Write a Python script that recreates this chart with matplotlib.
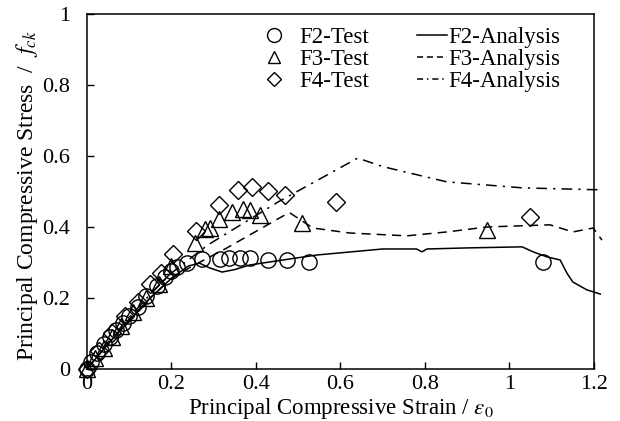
import matplotlib
matplotlib.use('Agg')
import matplotlib.pyplot as plt
from matplotlib.ticker import FuncFormatter
from matplotlib.lines import Line2D

plt.rcParams['font.family'] = ['Liberation Serif', 'DejaVu Serif']
plt.rcParams['mathtext.fontset'] = 'stix'

# test data (strain / eps0, stress / fck)
f2_test_x = [0, 0.01, 0.025, 0.04, 0.055, 0.07, 0.085, 0.1, 0.12, 0.14, 0.165, 0.185,
             0.2, 0.213, 0.237, 0.272, 0.315, 0.336, 0.362, 0.386, 0.428, 0.473, 0.525, 1.079]
f2_test_y = [0, 0.02, 0.045, 0.07, 0.09, 0.11, 0.13, 0.15, 0.175, 0.205, 0.235, 0.26,
             0.275, 0.287, 0.299, 0.31, 0.31, 0.313, 0.313, 0.313, 0.307, 0.307, 0.301, 0.301]

f3_test_x = [0, 0.02, 0.04, 0.06, 0.08, 0.11, 0.14, 0.17, 0.2, 0.256, 0.279, 0.291,
             0.312, 0.343, 0.369, 0.386, 0.409, 0.509, 0.947]
f3_test_y = [0, 0.03, 0.06, 0.09, 0.12, 0.16, 0.2, 0.24, 0.29, 0.355, 0.394, 0.397,
             0.422, 0.442, 0.451, 0.448, 0.434, 0.411, 0.392]

f4_test_x = [0, 0.03, 0.06, 0.09, 0.12, 0.15, 0.175, 0.204, 0.258, 0.312, 0.357, 0.39,
             0.428, 0.469, 0.589, 1.048]
f4_test_y = [0, 0.05, 0.1, 0.15, 0.19, 0.24, 0.27, 0.324, 0.389, 0.462, 0.504, 0.513,
             0.501, 0.49, 0.47, 0.428]

# analysis curves
f2_ana_x = [0, 0.05, 0.1, 0.15, 0.2, 0.24, 0.267, 0.29, 0.32, 0.35, 0.386, 0.464, 0.544,
            0.7, 0.78, 0.793, 0.805, 0.9, 1.03, 1.056, 1.088, 1.12, 1.136, 1.15, 1.183, 1.215]
f2_ana_y = [0, 0.07, 0.135, 0.2, 0.255, 0.29, 0.298, 0.285, 0.273, 0.28, 0.293, 0.307, 0.321,
            0.338, 0.338, 0.33, 0.338, 0.341, 0.344, 0.33, 0.316, 0.307, 0.27, 0.245, 0.223, 0.211]

f3_ana_x = [0, 0.05, 0.1, 0.15, 0.2, 0.25, 0.327, 0.469, 0.48, 0.535, 0.622, 0.757, 0.852,
            0.947, 1.096, 1.15, 1.198, 1.219]
f3_ana_y = [0, 0.07, 0.14, 0.2, 0.255, 0.29, 0.338, 0.434, 0.44, 0.397, 0.383, 0.375, 0.386,
            0.4, 0.406, 0.386, 0.397, 0.363]

f4_ana_x = [0, 0.05, 0.1, 0.15, 0.2, 0.286, 0.452, 0.641, 0.7, 0.852, 1.032, 1.2, 1.22]
f4_ana_y = [0, 0.075, 0.145, 0.21, 0.27, 0.349, 0.47, 0.594, 0.57, 0.527, 0.51, 0.505, 0.505]

fig = plt.figure(figsize=(6.2, 4.21), dpi=100)
ax = fig.add_axes([0.140, 0.1235, 0.818, 0.8435])

mk = dict(linestyle='none', markerfacecolor='none', markeredgecolor='black',
          markeredgewidth=1.0, clip_on=False, zorder=3)
ax.plot(f2_test_x, f2_test_y, marker='o', markersize=11, **mk)
ax.plot(f3_test_x, f3_test_y, marker='^', markersize=11, **mk)
ax.plot(f4_test_x, f4_test_y, marker='D', markersize=9, **mk)

ax.plot(f2_ana_x, f2_ana_y, color='black', lw=1.1, ls='-', clip_on=False)
ax.plot(f3_ana_x, f3_ana_y, color='black', lw=1.1, ls=(0, (6, 4)), clip_on=False)
ax.plot(f4_ana_x, f4_ana_y, color='black', lw=1.1, ls=(0, (7, 4, 1.5, 4)), clip_on=False)

ax.set_xlim(0, 1.2)
ax.set_ylim(0, 1)
ax.set_xticks([0, 0.2, 0.4, 0.6, 0.8, 1.0, 1.2])
ax.set_yticks([0, 0.2, 0.4, 0.6, 0.8, 1.0])
fmt = FuncFormatter(lambda v, p: '%g' % round(v, 2))
ax.xaxis.set_major_formatter(fmt)
ax.yaxis.set_major_formatter(fmt)
ax.tick_params(direction='in', length=5, width=1, labelsize=16)
ax.tick_params(axis='x', pad=4.5)
ax.tick_params(axis='y', pad=12)
for s in ax.spines.values():
    s.set_linewidth(1.1)

ax.set_xlabel(r'Principal Compressive Strain / $\varepsilon_{\mathit{0}}$', fontsize=16.5)
ax.xaxis.set_label_coords(0.5, -0.075)
ax.set_ylabel(r'Principal Compressive Stress  /  $f_{ck}$', fontsize=17)
ax.yaxis.set_label_coords(-0.093, 0.487)

# legend, two blocks
h_test = [Line2D([], [], marker=m, ms=s, ls='none', mfc='none', mec='black', mew=1.0)
          for m, s in [('o', 10), ('^', 9), ('D', 7)]]
leg1 = ax.legend(h_test, ['F2-Test', 'F3-Test', 'F4-Test'], loc='upper left',
                 bbox_to_anchor=(0.306, 1.021), frameon=False, fontsize=16.5,
                 handlelength=1.0, handletextpad=0.59, labelspacing=0.03)
ax.add_artist(leg1)
h_ana = [Line2D([], [], color='black', lw=1.1, ls='-'),
         Line2D([], [], color='black', lw=1.1, ls=(0, (4, 2.5))),
         Line2D([], [], color='black', lw=1.1, ls=(0, (4, 2.5, 1, 2.5)))]
ax.legend(h_ana, ['F2-Analysis', 'F3-Analysis', 'F4-Analysis'], loc='upper left',
          bbox_to_anchor=(0.611, 1.021), frameon=False, fontsize=16.5,
          handlelength=1.3, handletextpad=0.05, labelspacing=0.03)

fig.savefig('out.png', dpi=100)
